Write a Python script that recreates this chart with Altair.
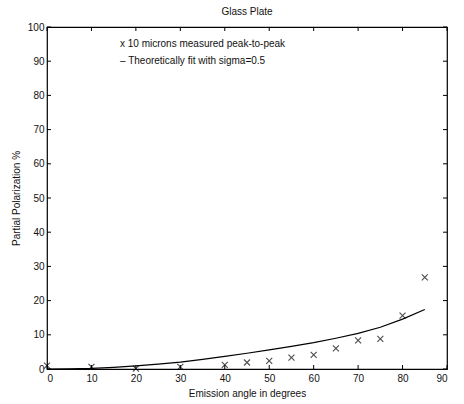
import altair as alt
import pandas as pd

# Measured polarization (10 micron roughness, peak-to-peak)
meas_angle = [0, 10, 20, 30, 40, 45, 50, 55, 60, 65, 70, 75, 80, 85]
meas_pol = [1.0, 0.6, 0.1, 0.6, 1.2, 1.9, 2.4, 3.3, 4.1, 6.0, 8.4, 8.8, 15.6, 26.8]

# Theoretical fit, sigma = 0.5
fit_angle = [0, 5, 10, 15, 20, 25, 30, 35, 40, 45, 50, 55, 60, 65, 70, 75, 80, 85]
fit_pol = [0.0, 0.05, 0.2, 0.5, 0.9, 1.4, 2.0, 2.8, 3.7, 4.6, 5.6, 6.6, 7.7, 9.0, 10.4, 12.2, 14.6, 17.4]

x_ticks = [0, 10, 20, 30, 40, 50, 60, 70, 80, 90]
y_ticks = [0, 10, 20, 30, 40, 50, 60, 70, 80, 90, 100]

legend_lines = ["x 10 microns measured peak-to-peak", "\u2013 Theoretically fit with sigma=0.5"]

W, H = 400, 342
FONT = "Liberation Sans"

meas = pd.DataFrame({"angle": meas_angle, "pol": meas_pol})
fit = pd.DataFrame({"angle": fit_angle, "pol": fit_pol})
xt = pd.DataFrame({"angle": x_ticks})
yt = pd.DataFrame({"pol": y_ticks})

xscale = alt.Scale(domain=[0, 90], nice=False)
yscale = alt.Scale(domain=[0, 100], nice=False)

xaxis = alt.Axis(values=x_ticks, ticks=False, grid=False, domain=False,
                 labelFont=FONT, labelFontSize=10, labelColor="#111",
                 labelPadding=4, title="Emission angle in degrees",
                 titleFont=FONT, titleFontSize=10, titleFontWeight="normal",
                 titleColor="#111", titlePadding=5)
yaxis = alt.Axis(values=y_ticks, ticks=False, grid=False, domain=False,
                 labelFont=FONT, labelFontSize=10, labelColor="#111",
                 labelPadding=3, title="Partial Polarization %",
                 titleFont=FONT, titleFontSize=10, titleFontWeight="normal",
                 titleColor="#111", titlePadding=6)

X = alt.X("angle:Q", scale=xscale, axis=xaxis)
Y = alt.Y("pol:Q", scale=yscale, axis=yaxis)

X_SHAPE = "M-1,-1L1,1M-1,1L1,-1"

points = alt.Chart(meas).mark_point(
    shape=X_SHAPE, size=36, color="black", strokeWidth=1.1, filled=False
).encode(x=X, y=Y)

curve = alt.Chart(fit).mark_line(color="black", strokeWidth=1.2).encode(x=X, y=Y)

TL = 4  # inward tick length
tick_style = dict(color="black", strokeWidth=1)

bottom_ticks = alt.Chart(xt).mark_rule(**tick_style).encode(
    x=X, y=alt.value(H), y2=alt.value(H - TL))
top_ticks = alt.Chart(xt).mark_rule(**tick_style).encode(
    x=X, y=alt.value(0), y2=alt.value(TL))
left_ticks = alt.Chart(yt).mark_rule(**tick_style).encode(
    y=Y, x=alt.value(0), x2=alt.value(TL))
right_ticks = alt.Chart(yt).mark_rule(**tick_style).encode(
    y=Y, x=alt.value(W), x2=alt.value(W - TL))

text_style = dict(align="left", baseline="middle", font=FONT, fontSize=10, color="#111")
legend_rows = [
    alt.Chart(pd.DataFrame({"t": [line]})).mark_text(**text_style).encode(
        text="t:N", x=alt.value(73), y=alt.value(ypos))
    for line, ypos in zip(legend_lines, [17, 34])
]

chart = alt.layer(
    points, curve, bottom_ticks, top_ticks, left_ticks, right_ticks, *legend_rows
).properties(
    width=W, height=H,
    title=alt.TitleParams("Glass Plate", font=FONT, fontSize=10,
                          fontWeight="normal", color="#111", offset=5),
    autosize=alt.AutoSizeParams(type="none"),
    padding={"left": 47, "top": 27, "right": 17, "bottom": 35},
    background="white",
).configure_view(stroke="black", strokeWidth=1.2)

chart.save("out.html", embed_options={"renderer": "svg", "actions": False})
